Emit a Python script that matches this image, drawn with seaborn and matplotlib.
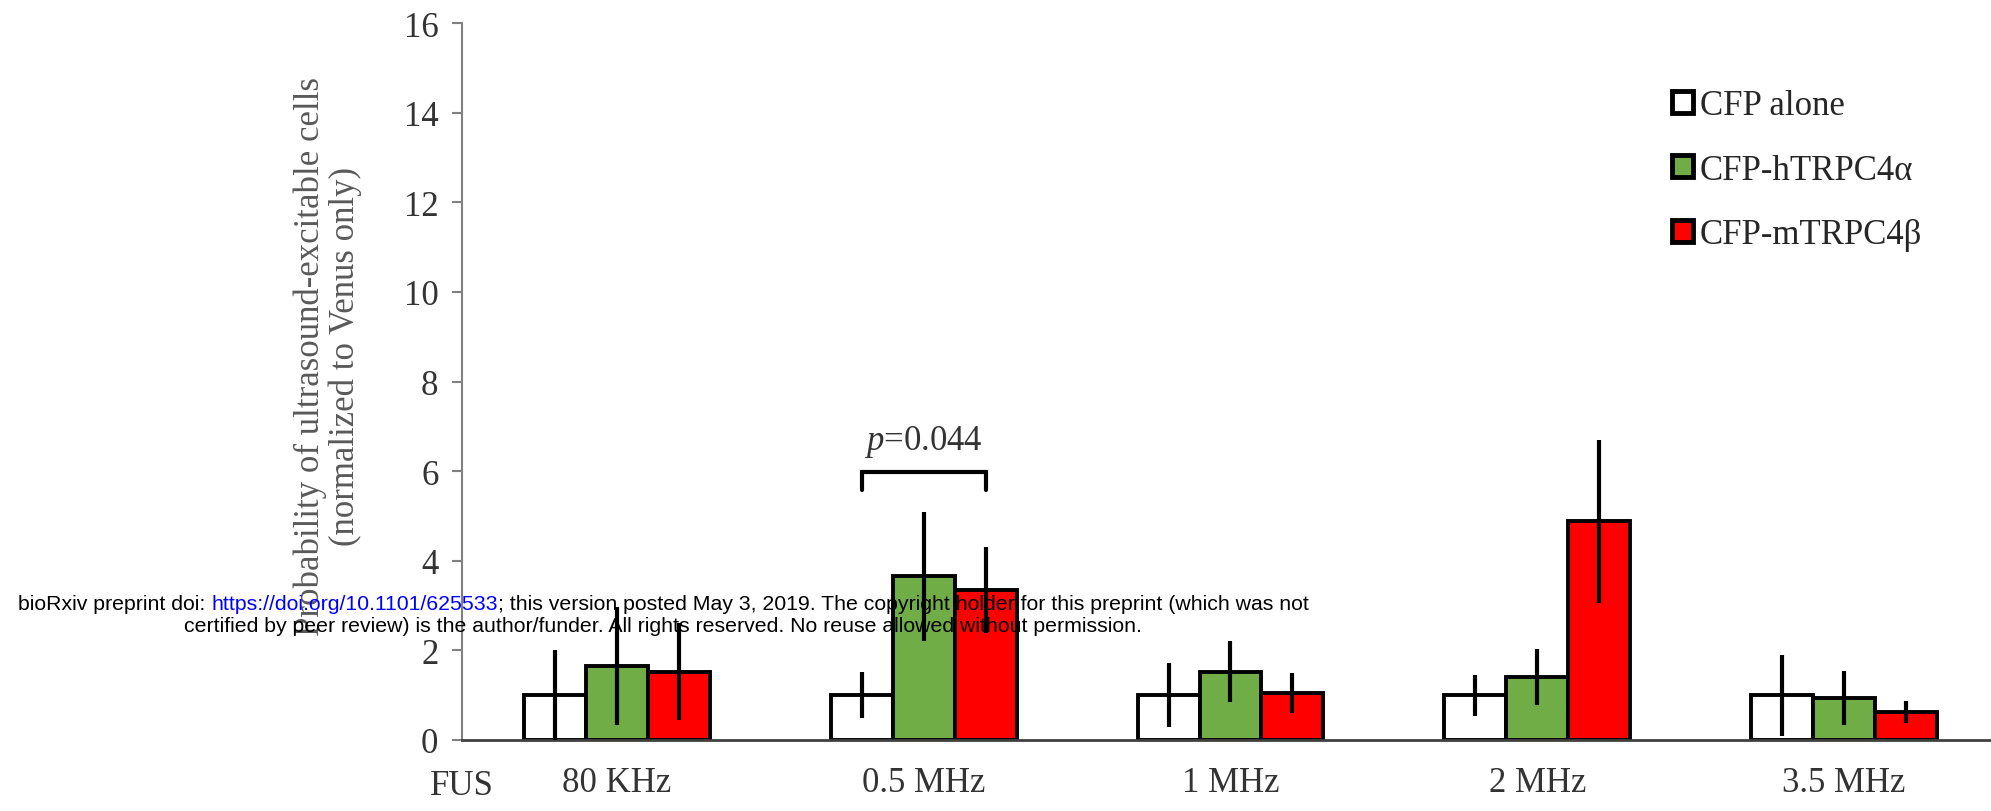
import matplotlib
matplotlib.use("Agg")
import matplotlib.pyplot as plt
import seaborn as sns
import pandas as pd
import numpy as np

# ---- data ----
frequencies = ["80 KHz", "0.5 MHz", "1 MHz", "2 MHz", "3.5 MHz"]
constructs = ["CFP alone", "CFP-hTRPC4\u03b1", "CFP-mTRPC4\u03b2"]
cfp_alone = [1.0, 1.0, 1.0, 1.0, 1.0]
cfp_htrpc4a = [1.65, 3.65, 1.52, 1.40, 0.93]
cfp_mtrpc4b = [1.52, 3.35, 1.05, 4.88, 0.62]
err_alone = [1.0, 0.52, 0.72, 0.46, 0.90]
err_htrpc4a = [1.32, 1.43, 0.68, 0.62, 0.60]
err_mtrpc4b = [1.08, 0.96, 0.44, 1.82, 0.25]
yticks = [0, 2, 4, 6, 8, 10, 12, 14, 16]
p_label = "=0.044"

colors = ["#FFFFFF", "#70AD47", "#FF0000"]

df = pd.DataFrame({
    "freq": frequencies * 3,
    "construct": sum([[c] * len(frequencies) for c in constructs], []),
    "value": cfp_alone + cfp_htrpc4a + cfp_mtrpc4b,
})
errors = [err_alone, err_htrpc4a, err_mtrpc4b]

sns.set_theme(style="white")
plt.rcParams["font.family"] = ["Liberation Serif", "DejaVu Serif"]
plt.rcParams["mathtext.fontset"] = "custom"
plt.rcParams["mathtext.rm"] = "Liberation Serif"
plt.rcParams["mathtext.it"] = "Liberation Serif:italic"

fig = plt.figure(figsize=(19.91, 8.12), dpi=100)
ax = fig.add_axes([462 / 1991, (812 - 741) / 812, 1 - 462 / 1991, (741 - 24) / 812])

sns.barplot(data=df, x="freq", y="value", hue="construct", order=frequencies,
            hue_order=constructs, palette=colors, width=0.606, gap=0,
            edgecolor="black", linewidth=2.8, saturation=1, errorbar=None,
            ax=ax, legend=False, zorder=2)
bar_conts = list(ax.containers)

# error bars from bar geometry
for cont, errs in zip(bar_conts, errors):
    xs = [p.get_x() + p.get_width() / 2 for p in cont.patches]
    ys = [p.get_height() for p in cont.patches]
    ax.errorbar(xs, ys, yerr=errs, fmt="none", ecolor="black",
                elinewidth=3, capsize=0, zorder=3)

ax.set_ylim(0, 16)
ax.set_xlim(-0.505, 4.479)
ax.set_yticks(yticks)
ax.set_xlabel("")

lab_color = "#333333"
ax.tick_params(axis="y", left=True, length=7, width=1.5, color="#808080",
               pad=10, labelsize=25, labelcolor=lab_color)
ax.tick_params(axis="x", bottom=False, length=0, pad=19, labelsize=25,
               labelcolor=lab_color)

for s in ["top", "right"]:
    ax.spines[s].set_visible(False)
ax.spines["left"].set_color("#808080")
ax.spines["left"].set_linewidth(1.5)
ax.spines["bottom"].set_color("#404040")
ax.spines["bottom"].set_linewidth(2)

ax.set_ylabel("Probability of ultrasound-excitable cells\n(normalized to Venus only)",
              fontsize=25, color="#595959", linespacing=1.05)
ax.yaxis.label.set_va("center")
ax.yaxis.set_label_coords(-0.0876, 0.536)

# FUS label
ax.annotate("FUS", xy=(0, 0), xycoords="axes fraction", xytext=(0, -46),
            textcoords="offset pixels", ha="center", va="center",
            fontsize=25, color=lab_color)

# significance bracket between CFP alone and mTRPC4b at 0.5 MHz
w_patch = bar_conts[0].patches[1]
r_patch = bar_conts[2].patches[1]
x1 = w_patch.get_x() + w_patch.get_width() / 2
x2 = r_patch.get_x() + r_patch.get_width() / 2
ax.plot([x1, x1, x2, x2], [5.58, 5.97, 5.97, 5.58], color="black", lw=3,
        solid_joinstyle="miter", zorder=3)
ax.text((x1 + x2) / 2, 6.5, r"$p$" + p_label, ha="center", va="baseline",
        fontsize=25, color="#333333")

# legend
handles = [c.patches[0] for c in bar_conts]
leg = fig.legend(handles, constructs, loc="upper left",
                 bbox_to_anchor=(1672 / 1991, (812 - 90) / 812),
                 frameon=False, fontsize=25, handlelength=0.6,
                 handleheight=0.6, handletextpad=0.2, labelspacing=0.91,
                 borderpad=0, borderaxespad=0)
for t in leg.get_texts():
    t.set_color("#262626")
for h in leg.legend_handles:
    h.set_linewidth(3.5)

# preprint overlay
sans = ["Liberation Sans", "DejaVu Sans"]
fs = 15.3
y1 = (812 - 605) / 812
t1 = fig.text(18 / 1991, y1, "bioRxiv preprint doi: ",
              fontsize=fs, family=sans, color="black", va="center", ha="left")
t2 = fig.text(0, 0, "https://doi.org/10.1101/625533", fontsize=fs, family=sans,
              color="#0000FF", va="center", ha="left")
t3 = fig.text(0, 0, "; this version posted May 3, 2019. The copyright holder for this preprint (which was not",
              fontsize=fs, family=sans, color="black", va="center", ha="left")
fig.canvas.draw()
r = fig.canvas.get_renderer()
bb1 = t1.get_window_extent(r)
t2.set_position((bb1.x1 / fig.bbox.width, y1))
fig.canvas.draw()
bb2 = t2.get_window_extent(r)
t3.set_position((bb2.x1 / fig.bbox.width, y1))
fig.text(663 / 1991, (812 - 627) / 812,
         "certified by peer review) is the author/funder. All rights reserved. No reuse allowed without permission.",
         fontsize=fs, family=sans, color="black", va="center", ha="center")

fig.savefig("out.png", dpi=100)
